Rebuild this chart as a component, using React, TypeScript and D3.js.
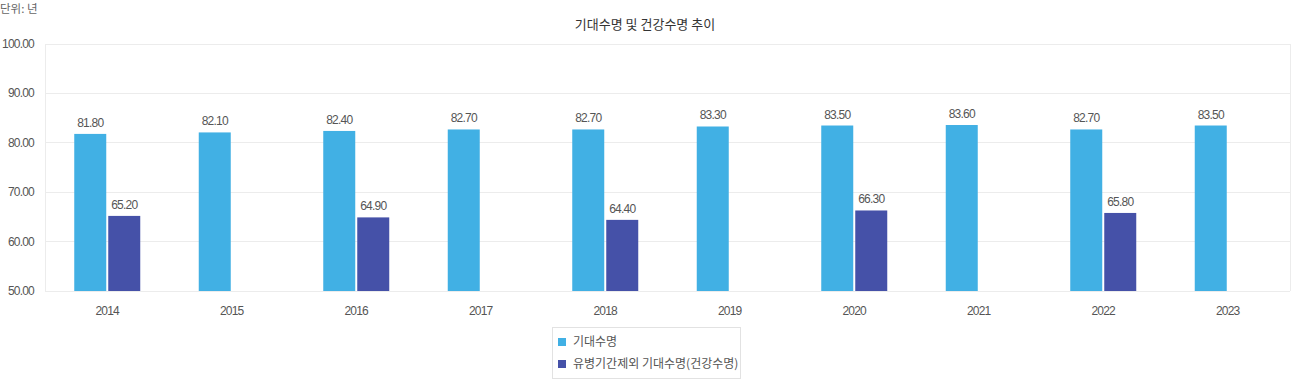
import React, { useEffect, useRef } from "react";
import * as d3 from "d3";

const years = ["2014", "2015", "2016", "2017", "2018", "2019", "2020", "2021", "2022", "2023"];
const lifeExpectancy = [81.8, 82.1, 82.4, 82.7, 82.7, 83.3, 83.5, 83.6, 82.7, 83.5];
const healthyLife: (number | null)[] = [65.2, null, 64.9, null, 64.4, null, 66.3, null, 65.8, null];
const yTicks = [50, 60, 70, 80, 90, 100];
const seriesNames = ["기대수명", "유병기간제외 기대수명(건강수명)"];
const colors = ["#41b0e4", "#4551a8"];

const W = 1292;
const H = 380;
const M = { left: 45, right: 2, top: 44, bottom: 89 };
const numFont = "'Liberation Sans', Arial, 'Noto Sans CJK KR', sans-serif";
const krFont = "'Noto Sans CJK KR', 'Liberation Sans', sans-serif";

export default function App() {
  const ref = useRef<SVGSVGElement>(null);
  useEffect(() => {
    const svg = d3.select(ref.current);
    svg.selectAll("*").remove();
    const x = d3.scaleBand().domain(years).range([M.left, W - M.right]);
    const y = d3.scaleLinear().domain([50, 100]).range([H - M.bottom, M.top]);
    const barW = 32;
    const gap = 2;

    svg.append("text").attr("x", 0).attr("y", 13).attr("font-family", krFont).attr("font-size", 11.5)
      .attr("fill", "#666").text("단위: 년");
    svg.append("text").attr("x", 645).attr("y", 29).attr("text-anchor", "middle").attr("font-family", krFont)
      .attr("font-size", 13).attr("fill", "#333").text("기대수명 및 건강수명 추이");

    const g = svg.append("g");
    yTicks.forEach((t) => {
      g.append("line").attr("x1", M.left).attr("x2", W - M.right).attr("y1", y(t)).attr("y2", y(t))
        .attr("stroke", "#ececec").attr("stroke-width", 1).attr("shape-rendering", "crispEdges");
      g.append("text").attr("x", 34).attr("y", y(t) + 4).attr("text-anchor", "end").attr("font-family", numFont)
        .attr("font-size", 12).attr("letter-spacing", "-0.8").attr("fill", "#555").text(t.toFixed(2));
    });
    g.append("line").attr("x1", M.left).attr("x2", M.left).attr("y1", y(100)).attr("y2", y(50))
      .attr("stroke", "#ececec").attr("shape-rendering", "crispEdges");
    g.append("line").attr("x1", W - M.right).attr("x2", W - M.right).attr("y1", y(100)).attr("y2", y(50))
      .attr("stroke", "#ececec").attr("shape-rendering", "crispEdges");

    years.forEach((yr, i) => {
      const cx = (x(yr) as number) + x.bandwidth() / 2;
      const vals = [lifeExpectancy[i], healthyLife[i]];
      vals.forEach((v, s) => {
        if (v == null) return;
        const bx = s === 0 ? cx - gap / 2 - barW : cx + gap / 2;
        g.append("rect").attr("x", bx).attr("y", y(v)).attr("width", barW).attr("height", y(50) - y(v))
          .attr("fill", colors[s]);
        g.append("text").attr("x", bx + barW / 2).attr("y", y(v) - 7).attr("text-anchor", "middle")
          .attr("font-family", numFont).attr("font-size", 12).attr("letter-spacing", "-0.8").attr("fill", "#555")
          .text(v.toFixed(2));
      });
      g.append("text").attr("x", cx).attr("y", 315).attr("text-anchor", "middle").attr("font-family", numFont)
        .attr("font-size", 12).attr("letter-spacing", "-0.8").attr("fill", "#555").text(yr);
    });

    const lg = svg.append("g");
    lg.append("rect").attr("x", 552.5).attr("y", 327.5).attr("width", 188).attr("height", 51)
      .attr("fill", "#fff").attr("stroke", "#e2e2e2");
    seriesNames.forEach((n, i) => {
      const yy = 342 + i * 22;
      lg.append("rect").attr("x", 558).attr("y", yy - 4).attr("width", 8).attr("height", 8).attr("fill", colors[i]);
      lg.append("text").attr("x", 573).attr("y", yy + 4).attr("font-family", krFont).attr("font-size", 12)
        .attr("fill", "#555").text(n);
    });
  }, []);
  return (
    <svg ref={ref} width={W} height={H} style={{ position: "absolute", left: 0, top: 0, background: "#fff" }} />
  );
}
